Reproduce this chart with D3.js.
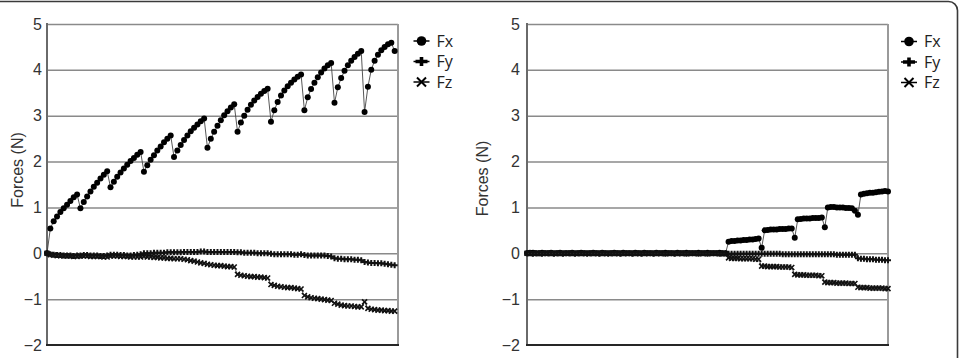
<!DOCTYPE html>
<html>
<head>
<meta charset="utf-8">
<script src="https://cdn.jsdelivr.net/npm/d3@7/dist/d3.min.js"></script>
<style>
  body { margin: 0; background: #fff; }
  svg { display: block; }
</style>
</head>
<body>
<script>
// force traces, two panels, three components each (x = sample number)

var yTicks = [-2, -1, 0, 1, 2, 3, 4, 5]
var seriesNames = ['Fx', 'Fy', 'Fz']

// left panel
var leftFx = [
  0, 0.54, 0.70, 0.80, 0.90, 0.98, 1.06, 1.14, 1.22, 1.28,
  0.98, 1.12, 1.24, 1.35, 1.45, 1.54, 1.63, 1.71, 1.79, 1.44,
  1.56, 1.67, 1.76, 1.85, 1.93, 2.01, 2.08, 2.15, 2.21, 1.78,
  1.92, 2.04, 2.14, 2.24, 2.33, 2.42, 2.50, 2.57, 2.10, 2.24,
  2.36, 2.47, 2.57, 2.66, 2.74, 2.81, 2.88, 2.94, 2.30, 2.50,
  2.65, 2.78, 2.90, 3.01, 3.10, 3.18, 3.25, 2.65, 2.85, 3.00,
  3.13, 3.24, 3.33, 3.41, 3.48, 3.54, 3.59, 2.87, 3.12, 3.30,
  3.44, 3.55, 3.64, 3.72, 3.79, 3.85, 3.90, 3.12, 3.40, 3.58,
  3.72, 3.84, 3.94, 4.03, 4.10, 4.15, 3.28, 3.62, 3.82, 3.98,
  4.10, 4.20, 4.28, 4.35, 4.41, 3.08, 3.63, 4.00, 4.20, 4.33,
  4.43, 4.50, 4.56, 4.59, 4.41
]
var leftFy = [
  0, -0.02, -0.03, -0.04, -0.04, -0.05, -0.05, -0.05, -0.06, -0.05,
  -0.05, -0.04, -0.04, -0.05, -0.05, -0.05, -0.06, -0.06, -0.05, -0.03,
  -0.03, -0.03, -0.04, -0.04, -0.05, -0.05, -0.04, -0.03, -0.02, 0.00,
  0.00, 0.00, 0.01, 0.01, 0.01, 0.01, 0.02, 0.02, 0.02, 0.02,
  0.02, 0.03, 0.03, 0.03, 0.03, 0.03, 0.04, 0.04, 0.03, 0.03,
  0.03, 0.03, 0.03, 0.03, 0.03, 0.03, 0.03, 0.02, 0.02, 0.01,
  0.01, 0.01, 0.01, 0.00, 0.00, 0.00, 0.00, -0.01, -0.02, -0.02,
  -0.02, -0.02, -0.02, -0.02, -0.03, -0.03, -0.02, -0.04, -0.05, -0.05,
  -0.05, -0.05, -0.05, -0.05, -0.06, -0.07, -0.11, -0.12, -0.12, -0.13,
  -0.13, -0.13, -0.14, -0.14, -0.15, -0.19, -0.20, -0.21, -0.21, -0.22,
  -0.22, -0.23, -0.24, -0.25, -0.26
]
var leftFz = [
  0, -0.03, -0.04, -0.05, -0.05, -0.06, -0.06, -0.06, -0.07, -0.07,
  -0.06, -0.06, -0.06, -0.07, -0.07, -0.07, -0.07, -0.08, -0.08, -0.06,
  -0.06, -0.06, -0.07, -0.07, -0.07, -0.08, -0.08, -0.08, -0.08, -0.07,
  -0.08, -0.08, -0.09, -0.09, -0.10, -0.10, -0.11, -0.11, -0.12, -0.12,
  -0.12, -0.13, -0.14, -0.16, -0.17, -0.19, -0.21, -0.22, -0.24, -0.25,
  -0.26, -0.27, -0.27, -0.28, -0.29, -0.29, -0.30, -0.46, -0.48, -0.49,
  -0.50, -0.51, -0.51, -0.52, -0.52, -0.53, -0.54, -0.68, -0.70, -0.72,
  -0.73, -0.74, -0.75, -0.75, -0.76, -0.77, -0.78, -0.92, -0.95, -0.97,
  -0.98, -0.99, -1.00, -1.01, -1.02, -1.03, -1.09, -1.11, -1.13, -1.14,
  -1.15, -1.15, -1.16, -1.17, -1.17, -1.06, -1.20, -1.22, -1.23, -1.24,
  -1.24, -1.25, -1.25, -1.26, -1.26
]

// right panel
var rightFx = [
  0, 0.01, 0.01, 0.00, 0.00, 0.01, 0.00, 0.00, 0.01, 0.00,
  0.00, 0.01, 0.00, 0.00, 0.00, 0.01, 0.00, 0.00, 0.01, 0.00,
  0.00, 0.00, 0.01, 0.00, 0.00, 0.01, 0.00, 0.00, 0.00, 0.01,
  0.00, 0.00, 0.01, 0.00, 0.00, 0.00, 0.01, 0.00, 0.00, 0.01,
  0.00, 0.00, 0.00, 0.01, 0.00, 0.00, 0.01, 0.00, 0.00, 0.00,
  0.01, 0.00, 0.00, 0.01, 0.00, 0.00, 0.00, 0.01, 0.00, 0.00,
  0.01, 0.00, 0.00, 0.00, 0.01, 0.00, 0.00, 0.25, 0.27, 0.27,
  0.28, 0.28, 0.29, 0.29, 0.30, 0.30, 0.31, 0.32, 0.12, 0.50,
  0.51, 0.52, 0.52, 0.52, 0.53, 0.53, 0.53, 0.54, 0.54, 0.34,
  0.74, 0.75, 0.76, 0.76, 0.76, 0.77, 0.77, 0.77, 0.78, 0.57,
  1.00, 1.01, 1.01, 1.00, 1.00, 1.00, 0.99, 0.99, 0.98, 0.93,
  0.84, 1.28, 1.30, 1.31, 1.32, 1.32, 1.33, 1.34, 1.35, 1.36,
  1.35
]
var rightFy = [
  0, 0.00, -0.01, 0.00, 0.00, -0.01, 0.00, 0.00, 0.00, -0.01,
  0.00, 0.00, -0.01, 0.00, 0.00, 0.00, -0.01, 0.00, 0.00, 0.00,
  -0.01, 0.00, 0.00, 0.00, -0.01, 0.00, 0.00, -0.01, 0.00, 0.00,
  0.00, -0.01, 0.00, 0.00, 0.00, -0.01, 0.00, 0.00, -0.01, 0.00,
  0.00, 0.00, -0.01, 0.00, 0.00, 0.00, -0.01, 0.00, 0.00, -0.01,
  0.00, 0.00, 0.00, -0.01, 0.00, 0.00, 0.00, -0.01, 0.00, 0.00,
  -0.01, 0.00, 0.00, 0.00, -0.01, 0.00, 0.00, -0.01, -0.01, -0.01,
  -0.01, -0.01, -0.01, -0.01, -0.01, -0.01, -0.01, -0.01, -0.01, -0.01,
  -0.01, -0.01, -0.01, -0.01, -0.01, -0.02, -0.02, -0.02, -0.02, -0.02,
  -0.02, -0.02, -0.02, -0.02, -0.02, -0.02, -0.02, -0.02, -0.02, -0.02,
  -0.02, -0.02, -0.02, -0.03, -0.03, -0.03, -0.03, -0.03, -0.03, -0.03,
  -0.11, -0.12, -0.12, -0.13, -0.13, -0.13, -0.14, -0.14, -0.14, -0.15,
  -0.15
]
var rightFz = [
  0, -0.01, 0.00, 0.00, -0.01, 0.00, 0.00, 0.00, -0.01, 0.00,
  0.00, -0.01, 0.00, 0.00, 0.00, -0.01, 0.00, 0.00, -0.01, 0.00,
  0.00, 0.00, -0.01, 0.00, 0.00, -0.01, 0.00, 0.00, 0.00, -0.01,
  0.00, 0.00, -0.01, 0.00, 0.00, 0.00, -0.01, 0.00, 0.00, -0.01,
  0.00, 0.00, 0.00, -0.01, 0.00, 0.00, -0.01, 0.00, 0.00, 0.00,
  -0.01, 0.00, 0.00, -0.01, 0.00, 0.00, 0.00, -0.01, 0.00, 0.00,
  -0.01, 0.00, 0.00, 0.00, -0.01, -0.01, -0.01, -0.10, -0.11, -0.11,
  -0.11, -0.12, -0.12, -0.12, -0.12, -0.12, -0.13, -0.13, -0.28, -0.28,
  -0.29, -0.29, -0.29, -0.29, -0.30, -0.30, -0.30, -0.30, -0.31, -0.46,
  -0.47, -0.47, -0.47, -0.48, -0.48, -0.48, -0.48, -0.49, -0.49, -0.63,
  -0.64, -0.64, -0.64, -0.65, -0.65, -0.65, -0.65, -0.66, -0.66, -0.66,
  -0.74, -0.75, -0.75, -0.75, -0.76, -0.76, -0.76, -0.76, -0.76, -0.77,
  -0.77
]

var W = 961
var H = 358

var svg = d3.select('body')
  .append('svg')
  .attr('width', W)
  .attr('height', H)

// outer frame (left and bottom edges fall outside the picture)
svg.append('rect')
  .attr('x', -8)
  .attr('y', 1.5)
  .attr('width', 965.5)
  .attr('height', 400)
  .attr('rx', 9)
  .attr('fill', 'none')
  .attr('stroke', '#3a3a3a')
  .attr('stroke-width', 1.6)

var markerPath = {
  Fy: 'M-3,0H3M0,-3V3',
  Fz: 'M-2.5,-2.5L2.5,2.5M-2.5,2.5L2.5,-2.5'
}

function drawPanel (p) {
  var x = d3.scaleLinear().domain(p.xDomain).range([p.left, p.right])
  var y = d3.scaleLinear().domain([-2, 5]).range([p.bottom, p.top])

  var g = svg.append('g')

  // horizontal gridlines
  g.append('g')
    .attr('transform', 'translate(' + p.left + ',0)')
    .call(d3.axisLeft(y).tickValues(yTicks.filter(function (d) { return d > -2 }))
      .tickSize(-(p.right - p.left)).tickFormat(''))
    .call(function (a) {
      a.select('.domain').remove()
      a.selectAll('line').attr('stroke', '#8a8a8a').attr('stroke-width', 1.5)
    })

  // right border of the plot area
  g.append('line')
    .attr('x1', p.right).attr('x2', p.right)
    .attr('y1', y(5)).attr('y2', y(-2))
    .attr('stroke', '#9a9a9a').attr('stroke-width', 2)

  // y axis labels
  g.append('g')
    .attr('transform', 'translate(' + p.left + ',0)')
    .call(d3.axisLeft(y).tickValues(yTicks).tickSize(0).tickPadding(p.pad)
      .tickFormat(d3.format('d')))
    .call(function (a) {
      a.select('.domain').remove()
      a.selectAll('text')
        .attr('fill', '#333')
        .style('font-family', '"Liberation Sans", Arial, sans-serif')
        .style('font-size', '16px')
    })

  // axis lines
  g.append('line')
    .attr('x1', p.left).attr('x2', p.left)
    .attr('y1', y(5) - 1).attr('y2', y(-2))
    .attr('stroke', '#6a6a6a').attr('stroke-width', 2)
  g.append('line')
    .attr('x1', p.left - 1).attr('x2', p.right + 1)
    .attr('y1', y(-2)).attr('y2', y(-2))
    .attr('stroke', '#262626').attr('stroke-width', 2)

  // y title
  g.append('text')
    .attr('transform', 'translate(' + p.titleX + ',' + p.titleY + ') rotate(-90)')
    .attr('text-anchor', 'middle')
    .attr('dy', '0.35em')
    .attr('fill', '#333')
    .style('font-family', '"Liberation Sans", Arial, sans-serif')
    .style('font-size', '16px')
    .text('Forces (N)')

  // series
  var line = d3.line()
    .x(function (d, i) { return x(i) })
    .y(function (d) { return y(d) })

  p.series.forEach(function (vals, k) {
    var name = seriesNames[k]
    g.append('path')
      .datum(vals)
      .attr('d', line)
      .attr('fill', 'none')
      .attr('stroke', '#444')
      .attr('stroke-width', 0.9)

    var pts = g.append('g').selectAll('.pt')
      .data(vals)
      .enter()
    if (name === 'Fx') {
      pts.append('circle')
        .attr('cx', function (d, i) { return x(i) })
        .attr('cy', function (d) { return y(d) })
        .attr('r', 3)
        .attr('fill', '#000')
    } else {
      pts.append('path')
        .attr('transform', function (d, i) { return 'translate(' + x(i) + ',' + y(d) + ')' })
        .attr('d', markerPath[name])
        .attr('fill', 'none')
        .attr('stroke', '#111')
        .attr('stroke-width', name === 'Fy' ? 2 : 1.6)
    }
  })

  // legend
  var legend = g.selectAll('.legend')
    .data(seriesNames)
    .enter().append('g')
    .attr('class', 'legend')
    .attr('transform', function (d, i) {
      return 'translate(' + p.legX + ',' + (p.legY + i * 20.5) + ')'
    })

  legend.append('line')
    .attr('x1', -8).attr('x2', 8)
    .attr('stroke', '#000').attr('stroke-width', 1.5)

  legend.each(function (d) {
    var s = d3.select(this)
    if (d === 'Fx') {
      s.append('circle').attr('r', 4.8).attr('fill', '#000')
    } else if (d === 'Fy') {
      s.append('path').attr('d', 'M-6,0H6M0,-4.5V4.5')
        .attr('stroke', '#000').attr('stroke-width', 3.6)
    } else {
      s.append('path').attr('d', 'M-4.5,-4.5L4.5,4.5M-4.5,4.5L4.5,-4.5')
        .attr('stroke', '#000').attr('stroke-width', 2)
    }
  })

  legend.append('text')
    .attr('x', p.legText)
    .attr('dy', '0.36em')
    .attr('fill', '#222')
    .style('font-family', '"Open Sans", sans-serif')
    .style('font-size', '16px')
    .text(function (d) { return d })
}

drawPanel({
  left: 47, right: 398, top: 24, bottom: 345,
  xDomain: [0, 105], pad: 5,
  titleX: 17.5, titleY: 170,
  legX: 421.5, legY: 41, legText: 15,
  series: [leftFx, leftFy, leftFz]
})

drawPanel({
  left: 527, right: 888, top: 24, bottom: 345,
  xDomain: [0, 120], pad: 7,
  titleX: 482, titleY: 178.5,
  legX: 909, legY: 41.5, legText: 15,
  series: [rightFx, rightFy, rightFz]
})
</script>
</body>
</html>
